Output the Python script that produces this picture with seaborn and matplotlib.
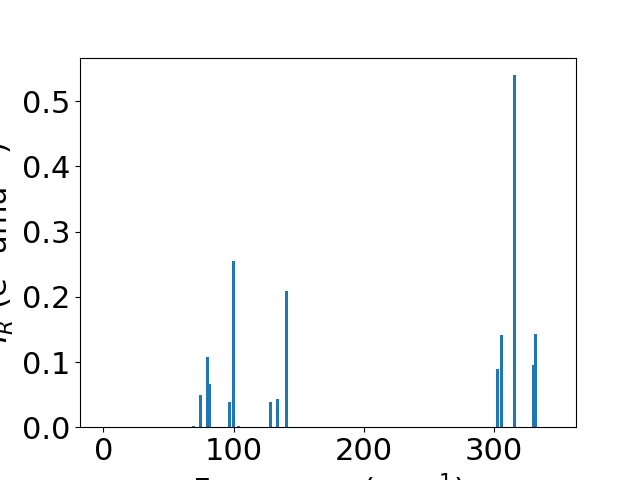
import numpy as np
import pandas as pd
import seaborn as sns
import matplotlib.pyplot as plt

# vibrational frequencies (cm^-1) and IR intensities
freqs = [69.3, 74.3, 79.7, 81.3, 96.6, 100.0, 103.5, 128.5, 133.5, 140.8,
         302.4, 305.5, 315.5, 330.5, 331.6]
intens = [0.002, 0.049, 0.107, 0.066, 0.038, 0.255, 0.002, 0.038, 0.043, 0.209,
          0.089, 0.141, 0.540, 0.095, 0.143]

df = pd.DataFrame({"freq": freqs, "ir": intens})

plt.rcParams['font.size'] = 22

fig, ax = plt.subplots(figsize=(6.4, 4.8), dpi=100)

# bars about 2.2 cm^-1 wide on the native frequency axis
min_gap = np.min(np.diff(np.unique(freqs)))
sns.barplot(data=df, x="freq", y="ir", native_scale=True, width=2.2 / min_gap,
            color="#1f77b4", saturation=1, errorbar=None, ax=ax)

ax.set_xlim(-18, 363)
ax.set_xticks([0, 100, 200, 300])
ax.set_xlabel("Frequency (cm$^{-1}$)")
ax.set_ylabel("$I_R$ (e$^2$ amu$^{-1}$)")

plt.savefig("out.png", dpi=100)
